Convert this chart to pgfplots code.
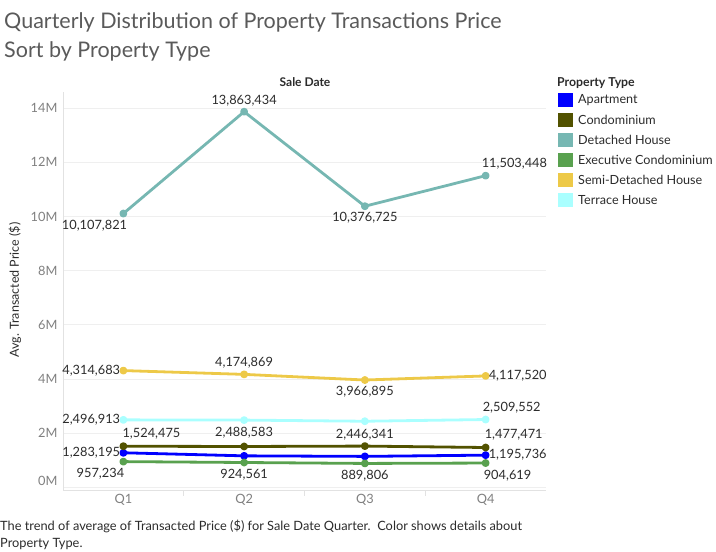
\documentclass[border=0pt]{standalone}
\usepackage{pgfplots}
\pgfplotsset{compat=1.18}
\usepackage{fontspec}
\setmainfont{Lato}
\definecolor{cApt}{HTML}{0000FF}
\definecolor{cCondo}{HTML}{525200}
\definecolor{cDet}{HTML}{76B7B2}
\definecolor{cExec}{HTML}{59A14F}
\definecolor{cSemi}{HTML}{EDC948}
\definecolor{cTer}{HTML}{AAFFFF}
\definecolor{gridc}{HTML}{EFEFEF}
\definecolor{axisc}{HTML}{E2E2E2}
\definecolor{tickc}{HTML}{7F7F7F}
\definecolor{labc}{HTML}{2B2B2B}
\definecolor{titc}{HTML}{5A5A5A}
\tikzset{lab/.style={inner sep=0pt, text=labc, font=\fontsize{12.8}{15}\selectfont}}
\begin{document}
\begin{tikzpicture}[x=1pt,y=1pt]
\path[use as bounding box] (0,0) rectangle (716,-552);
% titles
\node[anchor=base west, inner sep=0pt, text=titc, font=\fontsize{21.5}{24}\selectfont] at (4,-28) {Quarterly Distribution of Property Transactions Price};
\node[anchor=base west, inner sep=0pt, text=titc, font=\fontsize{21.5}{24}\selectfont] at (4,-57) {Sort by Property Type};
\node[anchor=base, inner sep=0pt, text=labc, font=\fontsize{12}{13}\selectfont\bfseries] at (305,-86) {Sale Date};
\node[rotate=90, inner sep=0pt, text=labc, font=\fontsize{12.5}{14}\selectfont] at (15,-290) {Avg. Transacted Price (\$)};
\begin{axis}[
  at={(63pt,-490pt)}, anchor=south west,
  scale only axis, width=483pt, height=398pt,
  xmin=0.5, xmax=4.5, ymin=-90000, ymax=14590000,
  xtick={1,2,3,4}, xticklabels={Q1,Q2,Q3,Q4},
  ytick={0,2000000,4000000,6000000,8000000,10000000,12000000,14000000},
  yticklabels={\raisebox{2.5pt}[0pt][0pt]{0M},2M,4M,6M,8M,10M,12M,14M},
  scaled y ticks=false,
  /pgf/number format/assume math mode=true,
  major tick length=0pt,
  ymajorgrids, xmajorgrids=false,
  grid style={draw=gridc, line width=0.8pt},
  axis x line*=bottom, axis y line*=left,
  axis line style={draw=axisc, line width=0.8pt},
  tick label style={font=\fontsize{12.8}{14}\selectfont, text=tickc},
  yticklabel style={xshift=-2pt},
  xticklabel style={yshift=-1pt},
  extra x ticks={1.5,2.5,3.5},
  extra x tick labels={},
  extra x tick style={major tick length=6pt, tick align=outside, grid=none, tick style={draw=axisc, line width=0.8pt}},
  clip=false,
  every axis plot/.append style={line width=2.8pt, line join=round, mark=*, mark size=2.5pt, mark options={solid}},
]
\addplot[cApt] coordinates {(1,1283195) (2,1170000) (3,1150000) (4,1195736)};
\addplot[cCondo] coordinates {(1,1524475) (2,1515000) (3,1530000) (4,1477471)};
\addplot[cDet] coordinates {(1,10107821) (2,13863434) (3,10376725) (4,11503448)};
\addplot[cExec] coordinates {(1,957234) (2,924561) (3,889806) (4,904619)};
\addplot[cSemi] coordinates {(1,4314683) (2,4174869) (3,3966895) (4,4117520)};
\addplot[cTer] coordinates {(1,2496913) (2,2488583) (3,2446341) (4,2509552)};
% detached
\node[lab, anchor=east, xshift=4pt, yshift=-12pt] at (axis cs:1,10107821) {10,107,821};
\node[lab, anchor=center, yshift=11pt] at (axis cs:2,13863434) {13,863,434};
\node[lab, anchor=center, yshift=-11pt] at (axis cs:3,10376725) {10,376,725};
\node[lab, anchor=west, xshift=-4pt, yshift=12pt] at (axis cs:4,11503448) {11,503,448};
% semi
\node[lab, anchor=east, xshift=-3pt] at (axis cs:1,4314683) {4,314,683};
\node[lab, anchor=center, yshift=12pt] at (axis cs:2,4174869) {4,174,869};
\node[lab, anchor=center, yshift=-12pt] at (axis cs:3,3966895) {3,966,895};
\node[lab, anchor=west, xshift=3pt] at (axis cs:4,4117520) {4,117,520};
% terrace
\node[lab, anchor=east, xshift=-3pt] at (axis cs:1,2496913) {2,496,913};
\node[lab, anchor=center, yshift=-13pt] at (axis cs:2,2488583) {2,488,583};
\node[lab, anchor=center, yshift=-13pt] at (axis cs:3,2446341) {2,446,341};
\node[lab, anchor=west, xshift=-3pt, yshift=12pt] at (axis cs:4,2509552) {2,509,552};
% condo
\node[lab, anchor=west, xshift=-1pt, yshift=12.5pt] at (axis cs:1,1524475) {1,524,475};
\node[lab, anchor=west, xshift=-1pt, yshift=12.5pt] at (axis cs:4,1477471) {1,477,471};
% apartment
\node[lab, anchor=east, xshift=-3pt] at (axis cs:1,1283195) {1,283,195};
\node[lab, anchor=west, xshift=3pt] at (axis cs:4,1195736) {1,195,736};
% executive
\node[lab, anchor=east, xshift=1pt, yshift=-12.5pt] at (axis cs:1,957234) {957,234};
\node[lab, anchor=center, yshift=-12.5pt] at (axis cs:2,924561) {924,561};
\node[lab, anchor=center, yshift=-12.5pt] at (axis cs:3,889806) {889,806};
\node[lab, anchor=west, xshift=-2pt, yshift=-12.5pt] at (axis cs:4,904619) {904,619};
\end{axis}
% legend
\node[anchor=base west, inner sep=0pt, text=labc, font=\fontsize{12.3}{13}\selectfont\bfseries] at (557,-86) {Property Type};
\foreach \c/\t [count=\i from 0] in {cApt/Apartment, cCondo/Condominium, cDet/Detached House, cExec/Executive Condominium, cSemi/Semi-Detached House, cTer/Terrace House}{
  \fill[\c] (558,{-93-20*\i}) rectangle ++(15,-14);
  \node[anchor=west, inner sep=0pt, text=labc, font=\fontsize{12.6}{14}\selectfont] at (578,{-100-20*\i}) {\t};
}
% caption
\node[anchor=base west, inner sep=0pt, text=labc, font=\fontsize{12.8}{14}\selectfont] at (0,-530) {The trend of average of Transacted Price (\$) for Sale Date Quarter.\ \ Color shows details about};
\node[anchor=base west, inner sep=0pt, text=labc, font=\fontsize{12.8}{14}\selectfont] at (0,-547) {Property Type.};
\end{tikzpicture}
\end{document}
